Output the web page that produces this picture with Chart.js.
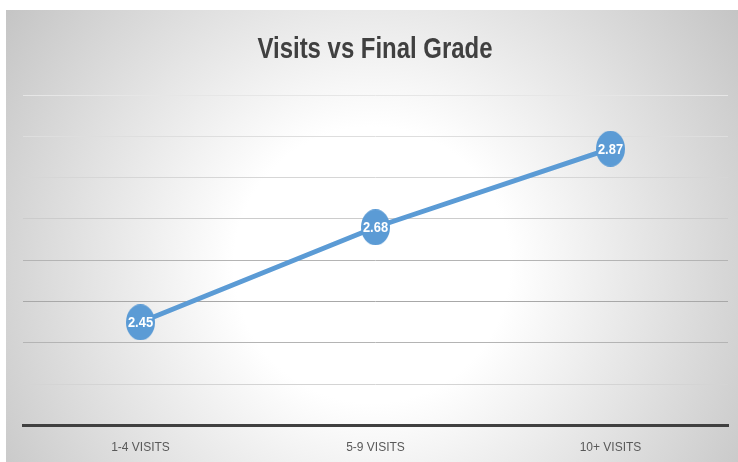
<!DOCTYPE html>
<html>
<head>
<meta charset="utf-8">
<script src="https://cdn.jsdelivr.net/npm/chart.js@4"></script>
<style>
  html, body { margin: 0; padding: 0; background: #ffffff; }
  canvas { display: block; }
</style>
</head>
<body>
<canvas id="Grades" width="738" height="462"></canvas>
<script>
// chart data
var chartTitle = 'Visits vs Final Grade';
var categories = ['1-4 VISITS', '5-9 VISITS', '10+ VISITS'];
var grades = [2.45, 2.68, 2.87];
var yMin = 2.2;
var yMax = 3.0;
var yStep = 0.1;

var lineBlue = '#5B9BD5';
// gridline shades, bottom to top (the original fades them out toward the top)
var gridShades = ['#404040', '#d4d4d4', '#b4b4b4', '#a8a8a8', '#b4b4b4', '#cccccc', '#d6d6d6', '#dedede', '#e6e6e6'];

// oval marker, a bit taller than wide like the original
function ovalMarker(w, h, color) {
    var c = document.createElement('canvas');
    c.width = w;
    c.height = h;
    var g = c.getContext('2d');
    g.fillStyle = color;
    g.beginPath();
    g.ellipse(w / 2, h / 2, w / 2, h / 2, 0, 0, Math.PI * 2);
    g.fill();
    return c;
}

// condensed text: squeeze a normal font sideways to get the narrow look
function narrowText(ctx, text, x, y, sx) {
    ctx.save();
    ctx.translate(x, y);
    ctx.scale(sx, 1);
    ctx.fillText(text, 0, 0);
    ctx.restore();
}

// grey radial backdrop behind everything
var backdrop = {
    id: 'backdrop',
    beforeDraw: function(chart) {
        var ctx = chart.ctx;
        var w = chart.width, h = chart.height;
        ctx.save();
        ctx.fillStyle = '#ffffff';
        ctx.fillRect(0, 0, w, h);
        var grad = ctx.createRadialGradient(372, 265, 0, 372, 265, 460);
        grad.addColorStop(0, '#ffffff');
        grad.addColorStop(0.3, '#ffffff');
        grad.addColorStop(1, '#c2c2c2');
        ctx.fillStyle = grad;
        ctx.fillRect(6, 10, w - 6, h - 10);
        ctx.restore();
    }
};

// title, drawn narrow
var narrowTitle = {
    id: 'narrowTitle',
    afterDraw: function(chart) {
        var ctx = chart.ctx;
        ctx.save();
        ctx.font = 'bold 30px "Liberation Sans", sans-serif';
        ctx.fillStyle = '#404040';
        ctx.textAlign = 'center';
        ctx.textBaseline = 'alphabetic';
        var sx = 235 / ctx.measureText(chartTitle).width;
        narrowText(ctx, chartTitle, 375, 58, sx);
        ctx.restore();
    }
};

// white value labels inside the markers
var valueLabels = {
    id: 'valueLabels',
    afterDatasetsDraw: function(chart) {
        var ctx = chart.ctx;
        ctx.save();
        ctx.font = 'bold 15px "Liberation Sans", sans-serif';
        ctx.fillStyle = '#ffffff';
        ctx.textAlign = 'center';
        ctx.textBaseline = 'middle';
        chart.getDatasetMeta(0).data.forEach(function(pt, i) {
            narrowText(ctx, grades[i].toFixed(2), pt.x, pt.y + 1, 0.86);
        });
        ctx.restore();
    }
};

var ctx = document.getElementById('Grades').getContext('2d');
var chart = new Chart(ctx, {
    type: 'line',
    data: {
        labels: categories,
        datasets: [{
            label: 'Final Grade',
            data: grades,
            borderColor: lineBlue,
            backgroundColor: lineBlue,
            borderWidth: 5,
            tension: 0,
            pointStyle: ovalMarker(29, 36, lineBlue),
            pointRadius: 15,
            pointHoverRadius: 15
        }]
    },
    options: {
        responsive: false,
        animation: false,
        devicePixelRatio: 1,
        layout: {
            // markers stay inside the plot, so no automatic padding for them
            autoPadding: false,
            padding: { left: 23, right: 10, top: 95, bottom: -8 }
        },
        plugins: {
            legend: { display: false },
            tooltip: { enabled: false },
            title: { display: false }
        },
        scales: {
            x: {
                offset: true,
                grid: { display: false, drawTicks: false },
                border: { display: true, color: '#404040', width: 3 },
                ticks: {
                    color: '#595959',
                    padding: 15,
                    font: { family: '"Liberation Sans", sans-serif', size: 12 }
                }
            },
            y: {
                min: yMin,
                max: yMax,
                ticks: { display: false, stepSize: yStep },
                grid: {
                    color: function(c) { return gridShades[c.index] || '#d0d0d0'; },
                    lineWidth: 1,
                    drawTicks: false
                },
                border: { display: false }
            }
        }
    },
    plugins: [backdrop, valueLabels, narrowTitle]
});
</script>
</body>
</html>
